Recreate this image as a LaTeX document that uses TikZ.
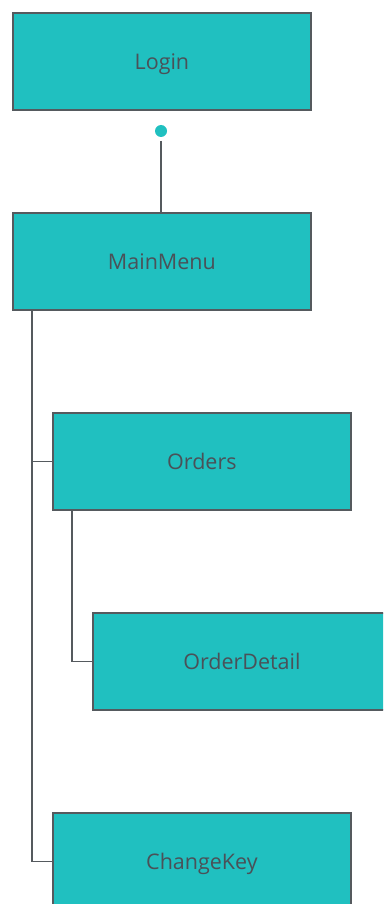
\documentclass[tikz,border=0pt]{standalone}
\usepackage{fontspec}
\setmainfont{Open Sans}
\usetikzlibrary{calc}
\definecolor{boxfill}{HTML}{20C0C0}
\definecolor{boxline}{HTML}{555A5E}
\definecolor{boxtext}{HTML}{4A5158}
\begin{document}
\begin{tikzpicture}[x=1pt,y=-1pt,
  screen/.style={draw=boxline, line width=1.8pt, fill=boxfill, text=boxtext,
    minimum width=298pt, minimum height=97pt, anchor=north west, inner sep=0pt,
    text height=16pt, text depth=0pt,
    font=\fontsize{21.5}{25}\selectfont},
  link/.style={draw=boxline, line width=1.8pt}]
\useasboundingbox (0,0) rectangle (383,904);
\clip (0,0) rectangle (383,904);
% screens
\node[screen] (login) at (12,12) {Login};
\node[screen] (mainmenu) at (12,212) {MainMenu};
\node[screen] (orders) at (52,412) {Orders};
\node[screen] (orderdetail) at (92,612) {OrderDetail};
\node[screen] (changekey) at (52,812) {ChangeKey};
% start marker below Login
\node[circle, fill=boxfill, minimum size=12pt, inner sep=0pt] (start) at (161,131) {};
% connectors
\draw[link] ($(start)+(0,10)$) coordinate (s1) -- (s1 |- mainmenu.north);
\draw[link] ($(mainmenu.south west)+(20,0)$) |- (orders.west);
\draw[link] ($(mainmenu.south west)+(20,0)$) |- (changekey.west);
\draw[link] ($(orders.south west)+(20,0)$) |- (orderdetail.west);
\end{tikzpicture}
\end{document}
